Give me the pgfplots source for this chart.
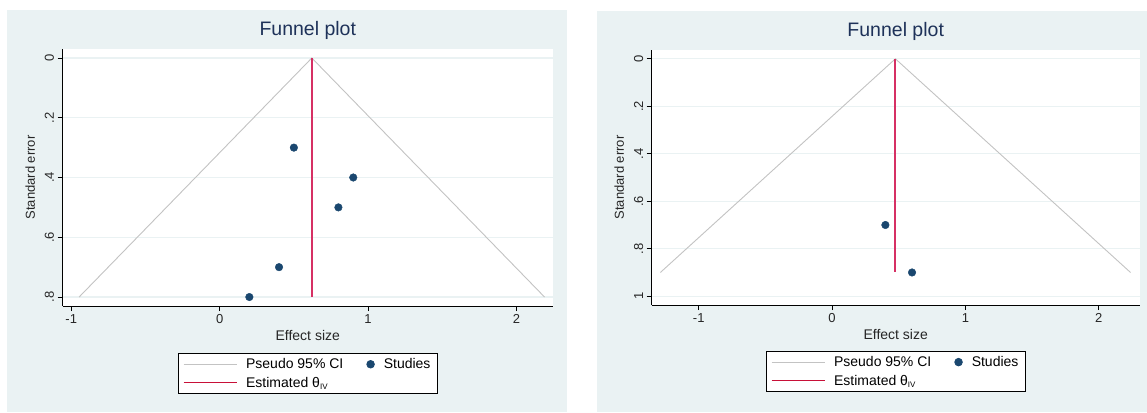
\documentclass[border=0pt]{standalone}
\usepackage{fontspec}
\setmainfont{Liberation Sans}
\usepackage{pgfplots}
\pgfplotsset{compat=1.18}
\definecolor{bgc}{RGB}{234,242,243}
\definecolor{navy}{RGB}{26,71,111}
\definecolor{titlec}{RGB}{30,50,89}
\definecolor{ivred}{RGB}{214,48,100}
\definecolor{legred}{RGB}{200,16,56}
\definecolor{cigray}{RGB}{195,195,195}
\definecolor{gridc}{RGB}{234,242,243}

\pgfplotsset{funnel/.style={
  scale only axis, y dir=reverse,
  axis x line*=bottom, axis y line*=left,
  axis line style={black, line width=0.9pt, -},
  tick align=outside, major tick length=5pt,
  tick style={black, line width=0.8pt},
  ymajorgrids, grid style={gridc, line width=1.3pt},
  axis background/.style={fill=white},
  /pgf/number format/assume math mode=true,
  tick label style={font=\fontsize{13}{15}\selectfont, black!85},
  yticklabel style={rotate=90, anchor=south},
  xlabel={Effect size}, ylabel={Standard error},
  ylabel shift=3pt,
  xlabel style={font=\fontsize{14}{16}\selectfont, black!85},
  ylabel style={font=\fontsize{13}{15}\selectfont, black!85},
  title style={font=\fontsize{19.5}{22}\selectfont, color=titlec},
  title={Funnel plot},
  xtick={-1,0,1,2}, xticklabels={-1,0,1,2},
  legend columns=2,
  legend cell align=left,
  legend style={font=\fontsize{14}{16}\selectfont, draw=black, line width=0.8pt, fill=white,
    inner xsep=5pt, inner ysep=3pt, row sep=3pt,
    nodes={inner sep=2pt},
    /tikz/every odd column/.append style={column sep=7pt},
    /tikz/every even column/.append style={column sep=21pt}},
}}
\pgfplotsset{
  cistyle/.style={draw=cigray, line width=0.9pt, legend image code/.code={\draw[#1] (0pt,0pt) -- (53pt,0pt);}},
  ivstyle/.style={draw=ivred, line width=2pt, legend image code/.code={\draw[#1, draw=legred, line width=1.1pt] (0pt,0pt) -- (53pt,0pt);}},
  ststyle/.style={only marks, mark=*, mark size=3.8pt, mark options={fill=navy, draw=navy},
    legend image code/.code={\fill[navy] (3.8pt,0pt) circle (3.8pt);}},
}

\begin{document}
\begin{tikzpicture}
\path[use as bounding box] (0,0) rectangle (1147pt,412pt);
\fill[bgc] (6.5pt,0pt) rectangle (567pt,402pt);
\fill[bgc] (597pt,0pt) rectangle (1147pt,401pt);

\begin{axis}[funnel,
  at={(62.5pt,106pt)}, anchor=south west,
  width=490.5pt, height=257pt,
  xmin=-1.059, xmax=2.246, ymin=-0.030, ymax=0.830,
  ytick={0,0.2,0.4,0.6,0.8}, yticklabels={0,.2,.4,.6,.8},
  legend style={at={(0.5,-0.183)}, anchor=north},
]
\addplot[cistyle] coordinates {(-0.947,0.8) (0.621,0) (2.189,0.8)};
\addlegendentry{Pseudo 95\% CI}
\addplot[ststyle] coordinates {(0.5,0.3) (0.9,0.4) (0.8,0.5) (0.4,0.7) (0.2,0.8)};
\addlegendentry{Studies}
\addplot[ivstyle] coordinates {(0.621,0) (0.621,0.8)};
\addlegendentry{Estimated θ{\fontsize{8}{8}\selectfont\raisebox{-2pt}{IV}}}
\end{axis}

\begin{axis}[funnel,
  at={(651.7pt,107pt)}, anchor=south west,
  width=488pt, height=255pt,
  xmin=-1.353, xmax=2.308, ymin=-0.037, ymax=1.037,
  ytick={0,0.2,0.4,0.6,0.8,1}, yticklabels={0,.2,.4,.6,.8,1},
  legend style={at={(0.5,-0.180)}, anchor=north},
]
\addplot[cistyle] coordinates {(-1.288,0.9) (0.475,0) (2.239,0.9)};
\addlegendentry{Pseudo 95\% CI}
\addplot[ststyle] coordinates {(0.4,0.7) (0.6,0.9)};
\addlegendentry{Studies}
\addplot[ivstyle] coordinates {(0.475,0) (0.475,0.9)};
\addlegendentry{Estimated θ{\fontsize{8}{8}\selectfont\raisebox{-2pt}{IV}}}
\end{axis}
\end{tikzpicture}
\end{document}
